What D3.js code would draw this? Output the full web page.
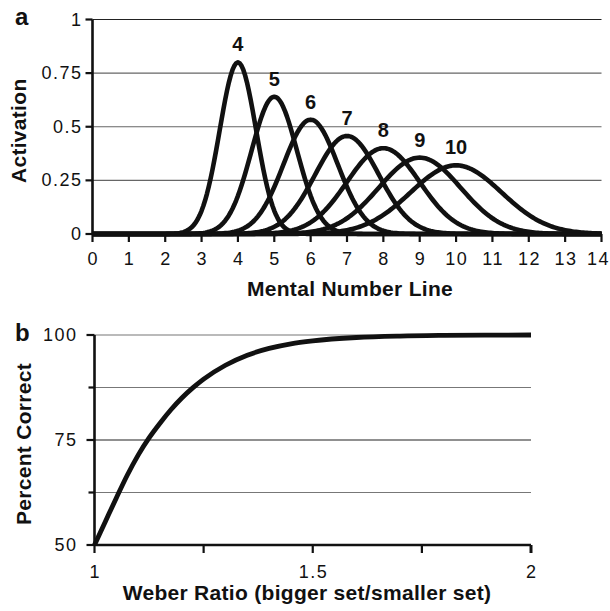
<!DOCTYPE html>
<html><head><meta charset="utf-8">
<script src="https://cdn.jsdelivr.net/npm/d3@7"></script>
<style>
body{margin:0;background:#fff}
text{font-family:"Liberation Sans",Arial,Helvetica,sans-serif;fill:#111}
</style>
</head><body>
<svg id="c" width="610" height="611"></svg>
<script>
// ---- Panel a data ----
const numbers = [4, 5, 6, 7, 8, 9, 10];            // curve centres on the mental number line
const peakActivation = [0.80, 0.64, 0.533, 0.457, 0.40, 0.356, 0.32];
const spread = [0.50, 0.625, 0.75, 0.875, 1.00, 1.125, 1.25]; // standard deviation of each tuning curve
const xTicksA = [0,1,2,3,4,5,6,7,8,9,10,11,12,13,14];
const yTicksA = [0, 0.25, 0.5, 0.75, 1];
const yTickLabelsA = ["0", "0.25", "0.5", "0.75", "1"];

// ---- Panel b data ----
const weberRatio =     [1.00, 1.025, 1.05, 1.075, 1.10, 1.125, 1.15, 1.175, 1.20, 1.225, 1.25, 1.30, 1.35, 1.40, 1.45, 1.50, 1.60, 1.70, 1.80, 1.90, 2.00];
const percentCorrect = [50.0, 55.6, 61.2, 66.6, 71.4, 75.5, 79.0, 82.2, 85.0, 87.4, 89.5, 92.8, 95.2, 96.8, 97.9, 98.6, 99.4, 99.75, 99.9, 99.97, 100];
const xTicksB = [1, 1.25, 1.5, 1.75, 2];
const xTickLabelsB = ["1", "", "1.5", "", "2"];
const yTicksB = [50, 62.5, 75, 87.5, 100];
const yTickLabelsB = ["50", "", "75", "", "100"];

const svg = d3.select("#c");
const TICK_FS = 18, TICK_LS = 1.5;

// ================= Panel a =================
const xA = d3.scaleLinear().domain([0, 14]).range([92.5, 601.5]);
const yA = d3.scaleLinear().domain([0, 1]).range([234, 19.5]);
const gA = svg.append("g");

gA.selectAll("line.grid").data(yTicksA.filter(d => d > 0)).join("line")
  .attr("x1", xA(0)).attr("x2", xA(14))
  .attr("y1", d => yA(d)).attr("y2", d => yA(d))
  .attr("stroke", d => d === 1 ? "#222" : "#666").attr("stroke-width", 1.2);

const sampleX = d3.range(0, 14.0001, 0.05);
const lineA = d3.line().x(d => xA(d[0])).y(d => yA(d[1]));
numbers.forEach((n, i) => {
  const pts = sampleX.map(x => [x, peakActivation[i] * Math.exp(-((x - n) ** 2) / (2 * spread[i] ** 2))]);
  gA.append("path").attr("d", lineA(pts)).attr("fill", "none")
    .attr("stroke", "#111").attr("stroke-width", 4.6).attr("stroke-linejoin", "round");
});

gA.selectAll("text.num").data(numbers).join("text")
  .attr("x", d => xA(d)).attr("y", (d, i) => yA(peakActivation[i]) - 11)
  .attr("text-anchor", "middle").attr("font-size", 20).attr("font-weight", "bold").text(d => d);

const axA = gA.append("g");
axA.append("line").attr("x1", xA(0)).attr("x2", xA(14)).attr("y1", yA(0)).attr("y2", yA(0))
  .attr("stroke", "#111").attr("stroke-width", 2.6);
axA.append("line").attr("x1", xA(0)).attr("x2", xA(0)).attr("y1", yA(0)).attr("y2", yA(1))
  .attr("stroke", "#111").attr("stroke-width", 2.6);
axA.selectAll("line.xt").data(xTicksA).join("line")
  .attr("x1", d => xA(d)).attr("x2", d => xA(d)).attr("y1", yA(0)).attr("y2", yA(0) + 8)
  .attr("stroke", "#111").attr("stroke-width", 2.2);
axA.selectAll("line.yt").data(yTicksA).join("line")
  .attr("x1", xA(0) - 7).attr("x2", xA(0)).attr("y1", d => yA(d)).attr("y2", d => yA(d))
  .attr("stroke", "#111").attr("stroke-width", 2.2);
axA.selectAll("text.xl").data(xTicksA).join("text")
  .attr("x", d => d === 14 ? 610 : xA(d) + TICK_LS / 2).attr("y", yA(0) + 31)
  .attr("text-anchor", d => d === 14 ? "end" : "middle")
  .attr("font-size", TICK_FS).attr("letter-spacing", TICK_LS).text(d => d);
axA.selectAll("text.yl").data(yTicksA).join("text")
  .attr("x", 81 + TICK_LS).attr("y", d => yA(d) + 6).attr("text-anchor", "end")
  .attr("font-size", TICK_FS).attr("letter-spacing", TICK_LS).text((d, i) => yTickLabelsA[i]);

gA.append("text").attr("x", 350).attr("y", 296).attr("text-anchor", "middle")
  .attr("font-size", 21).attr("letter-spacing", 0.3).attr("font-weight", "bold").text("Mental Number Line");
gA.append("text").attr("transform", `translate(26,${(yA(0) + yA(1)) / 2 + 4}) rotate(-90)`)
  .attr("text-anchor", "middle").attr("font-size", 21).attr("letter-spacing", 0.3)
  .attr("font-weight", "bold").text("Activation");
gA.append("text").attr("x", 15).attr("y", 25).attr("font-size", 24).attr("font-weight", "bold").text("a");

// ================= Panel b =================
const xB = d3.scaleLinear().domain([1, 2]).range([94.5, 531]);
const yB = d3.scaleLinear().domain([50, 100]).range([545, 335]);
const gB = svg.append("g");

gB.selectAll("line.grid").data(yTicksB.filter(d => d > 50)).join("line")
  .attr("x1", xB(1)).attr("x2", xB(2))
  .attr("y1", d => yB(d)).attr("y2", d => yB(d))
  .attr("stroke", d => (d === 75) ? "#222" : "#777").attr("stroke-width", 1.2);

const lineB = d3.line().x((d, i) => xB(weberRatio[i])).y(d => yB(d)).curve(d3.curveMonotoneX);
gB.append("path").attr("d", lineB(percentCorrect)).attr("fill", "none")
  .attr("stroke", "#111").attr("stroke-width", 4.8).attr("stroke-linejoin", "round");

const axB = gB.append("g");
axB.append("line").attr("x1", xB(1)).attr("x2", xB(2)).attr("y1", yB(50)).attr("y2", yB(50))
  .attr("stroke", "#111").attr("stroke-width", 2.6);
axB.append("line").attr("x1", xB(1)).attr("x2", xB(1)).attr("y1", yB(50)).attr("y2", yB(100))
  .attr("stroke", "#111").attr("stroke-width", 2.6);
axB.selectAll("line.xt").data(xTicksB).join("line")
  .attr("x1", d => xB(d)).attr("x2", d => xB(d)).attr("y1", yB(50)).attr("y2", yB(50) + 8)
  .attr("stroke", "#111").attr("stroke-width", d => d === 2 ? 3 : 2.2);
axB.selectAll("line.yt").data(yTicksB).join("line")
  .attr("x1", (d, i) => xB(1) - (yTickLabelsB[i] ? 8 : 6)).attr("x2", xB(1))
  .attr("y1", d => yB(d)).attr("y2", d => yB(d))
  .attr("stroke", "#111").attr("stroke-width", 2.2);
axB.selectAll("text.xl").data(xTicksB).join("text")
  .attr("x", d => xB(d) + TICK_LS / 2).attr("y", yB(50) + 33).attr("text-anchor", "middle")
  .attr("font-size", TICK_FS).attr("letter-spacing", TICK_LS).text((d, i) => xTickLabelsB[i]);
axB.selectAll("text.yl").data(yTicksB).join("text")
  .attr("x", 76 + TICK_LS).attr("y", d => yB(d) + 6).attr("text-anchor", "end")
  .attr("font-size", TICK_FS).attr("letter-spacing", TICK_LS).text((d, i) => yTickLabelsB[i]);

gB.append("text").attr("x", 307).attr("y", 600).attr("text-anchor", "middle")
  .attr("font-size", 21).attr("letter-spacing", 0.3).attr("font-weight", "bold")
  .text("Weber Ratio (bigger set/smaller set)");
gB.append("text").attr("transform", `translate(31,${(yB(50) + yB(100)) / 2 + 4}) rotate(-90)`)
  .attr("text-anchor", "middle").attr("font-size", 21).attr("letter-spacing", 0.3)
  .attr("font-weight", "bold").text("Percent Correct");
gB.append("text").attr("x", 15).attr("y", 341).attr("font-size", 24).attr("font-weight", "bold").text("b");
</script>
</body></html>
